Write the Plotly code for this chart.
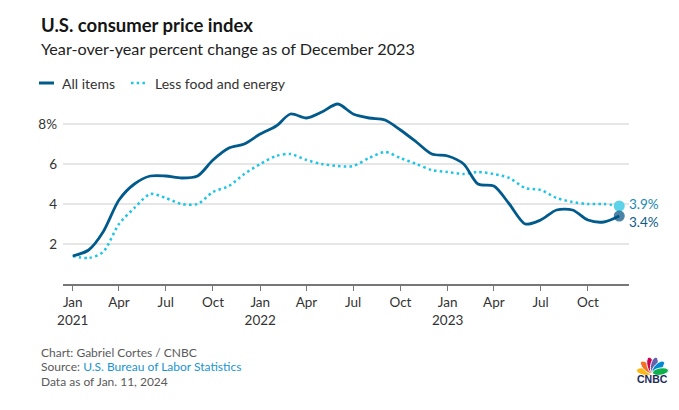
import plotly.graph_objects as go
import math

W, H = 679, 410
ML, MR, MT, MB = 63, 50, 98, 126
PW, PH = W - ML - MR, H - MT - MB

months = [f"{y}-{m:02d}-01" for y in (2021, 2022, 2023) for m in range(1, 13)]
all_items = [1.4, 1.7, 2.6, 4.2, 5.0, 5.4, 5.4, 5.3, 5.4, 6.2, 6.8, 7.0,
             7.5, 7.9, 8.5, 8.3, 8.6, 9.0, 8.5, 8.3, 8.2, 7.7, 7.1, 6.5,
             6.4, 6.0, 5.0, 4.9, 4.0, 3.0, 3.2, 3.7, 3.7, 3.2, 3.1, 3.4]
core = [1.4, 1.3, 1.6, 3.0, 3.8, 4.5, 4.3, 4.0, 4.0, 4.6, 4.9, 5.5,
        6.0, 6.4, 6.5, 6.2, 6.0, 5.9, 5.9, 6.3, 6.6, 6.3, 6.0, 5.7,
        5.6, 5.5, 5.6, 5.5, 5.3, 4.8, 4.7, 4.3, 4.1, 4.0, 4.0, 3.9]

xtick_vals = ["2021-01-01", "2021-04-01", "2021-07-01", "2021-10-01",
              "2022-01-01", "2022-04-01", "2022-07-01", "2022-10-01",
              "2023-01-01", "2023-04-01", "2023-07-01", "2023-10-01"]
xtick_text = ["Jan<br>2021", "Apr", "Jul", "Oct", "Jan<br>2022", "Apr", "Jul", "Oct",
              "Jan<br>2023", "Apr", "Jul", "Oct"]
ytick_vals = [2, 4, 6, 8]
ytick_text = ["2", "4", "6", "8%"]

footer_lines = ["Chart: Gabriel Cortes / CNBC",
                "Source: <span style='color:#1a95d2'>U.S. Bureau of Labor Statistics</span>",
                "Data as of Jan. 11, 2024"]

C_ALL = "#005a8c"
C_CORE = "#1cc6e4"
FONT = "Lato"


def px_x(p):
    return (p - ML) / PW


def px_y(p):
    return (H - MB - p) / PH


fig = go.Figure()
fig.add_trace(go.Scatter(x=months, y=core, mode="lines",
                         line=dict(color=C_CORE, width=2.5, dash="2.5px,3.2px", shape="spline", smoothing=0.8),
                         hoverinfo="skip", showlegend=False))
fig.add_trace(go.Scatter(x=months, y=all_items, mode="lines",
                         line=dict(color=C_ALL, width=2.8, shape="spline", smoothing=0.8),
                         hoverinfo="skip", showlegend=False))
# end markers
fig.add_trace(go.Scatter(x=[months[-1]], y=[core[-1]], mode="markers",
                         marker=dict(color="#5dd3ea", size=11), hoverinfo="skip", showlegend=False))
fig.add_trace(go.Scatter(x=[months[-1]], y=[all_items[-1]], mode="markers",
                         marker=dict(color="rgba(0,80,130,0.7)", size=11), hoverinfo="skip", showlegend=False))

ann = []
# end labels
ann.append(dict(x=months[-1], y=core[-1], xref="x", yref="y", text=f"{core[-1]}%", showarrow=False,
                xanchor="left", yanchor="middle", xshift=8, yshift=2,
                font=dict(family=FONT, size=13.5, color="#1a88b2")))
ann.append(dict(x=months[-1], y=all_items[-1], xref="x", yref="y", text=f"{all_items[-1]}%", showarrow=False,
                xanchor="left", yanchor="middle", xshift=8, yshift=-6,
                font=dict(family=FONT, size=13.5, color="#0d5b88")))

# title & subtitle
ann.append(dict(x=px_x(39), y=px_y(25), xref="paper", yref="paper", text="<b>U.S. consumer price index</b>",
                showarrow=False, xanchor="left", yanchor="middle",
                font=dict(family=FONT, size=18.5, color="#151515")))
ann.append(dict(x=px_x(39), y=px_y(48), xref="paper", yref="paper",
                text="Year-over-year percent change as of December 2023",
                showarrow=False, xanchor="left", yanchor="middle",
                font=dict(family=FONT, size=16.2, color="#222222")))
# legend
ann.append(dict(x=px_x(60), y=px_y(83), xref="paper", yref="paper", text="All items",
                showarrow=False, xanchor="left", yanchor="middle",
                font=dict(family=FONT, size=14, color="#333333")))
ann.append(dict(x=px_x(153), y=px_y(83), xref="paper", yref="paper", text="Less food and energy",
                showarrow=False, xanchor="left", yanchor="middle",
                font=dict(family=FONT, size=14, color="#333333")))
# footer
for i, line in enumerate(footer_lines):
    ann.append(dict(x=px_x(39), y=px_y(352.5 + 14.4 * i), xref="paper", yref="paper",
                    text=line, showarrow=False, xanchor="left", yanchor="middle", align="left",
                    font=dict(family=FONT, size=12, color="#5a5a5a")))
# CNBC wordmark
ann.append(dict(x=px_x(652.5), y=px_y(379), xref="paper", yref="paper", text="<b>CNBC</b>",
                showarrow=False, xanchor="center", yanchor="middle",
                font=dict(family="Liberation Sans", size=10.5, color="#1c2b5a")))

shapes = []
# legend symbols
shapes.append(dict(type="line", xref="paper", yref="paper", x0=px_x(39), x1=px_x(54), y0=px_y(83), y1=px_y(83),
                   line=dict(color=C_ALL, width=3)))
shapes.append(dict(type="line", xref="paper", yref="paper", x0=px_x(131), x1=px_x(145), y0=px_y(83), y1=px_y(83),
                   line=dict(color=C_CORE, width=2.5, dash="2.5px,3.2px")))

# peacock feathers
cx, cy = 652.5, 373
feather_colors = ["#fcb711", "#f37021", "#cc004c", "#6460aa", "#0089d0", "#0db14b"]
angles = [170, 135, 103, 77, 45, 10]
for col, ang in zip(feather_colors, angles):
    a = math.radians(ang)
    L, Wd = 8.5, 3.6
    ux, uy = math.cos(a), -math.sin(a)
    vx, vy = -uy, ux
    mx, my = cx + ux * (L * 0.95), cy + uy * (L * 0.95)
    pts = []
    for k in range(24):
        t = 2 * math.pi * k / 24
        ex = math.cos(t) * L * 0.95
        ey = math.sin(t) * Wd
        pts.append((mx + ux * ex + vx * ey, my + uy * ex + vy * ey))
    path = "M " + " L ".join(f"{px_x(p[0]):.5f},{px_y(p[1]):.5f}" for p in pts) + " Z"
    shapes.append(dict(type="path", xref="paper", yref="paper", path=path,
                       fillcolor=col, line=dict(color="white", width=1)))

fig.update_layout(
    width=W, height=H,
    margin=dict(l=ML, r=MR, t=MT, b=MB, pad=0),
    paper_bgcolor="white", plot_bgcolor="white",
    font=dict(family=FONT, size=13, color="#333333"),
    xaxis=dict(type="date", range=["2020-12-13", "2023-12-20"], tickvals=xtick_vals, ticktext=xtick_text,
               showgrid=False, zeroline=False, showline=True, linecolor="#777777", linewidth=1.5,
               ticks="outside", ticklen=5, tickcolor="#777777", tickwidth=1.2,
               tickfont=dict(family=FONT, size=13.5, color="#333333")),
    yaxis=dict(range=[0, 9.3], tickvals=ytick_vals, ticktext=ytick_text, showgrid=True,
               gridcolor="#e6e6e6", gridwidth=1.5, zeroline=False, showline=False, ticks="",
               ticklabelstandoff=5,
               tickfont=dict(family=FONT, size=13.5, color="#333333")),
    annotations=ann, shapes=shapes,
)

fig.write_html("out.html", config={"displayModeBar": False},
               post_script="document.body.style.margin='0';document.body.style.padding='0';")
